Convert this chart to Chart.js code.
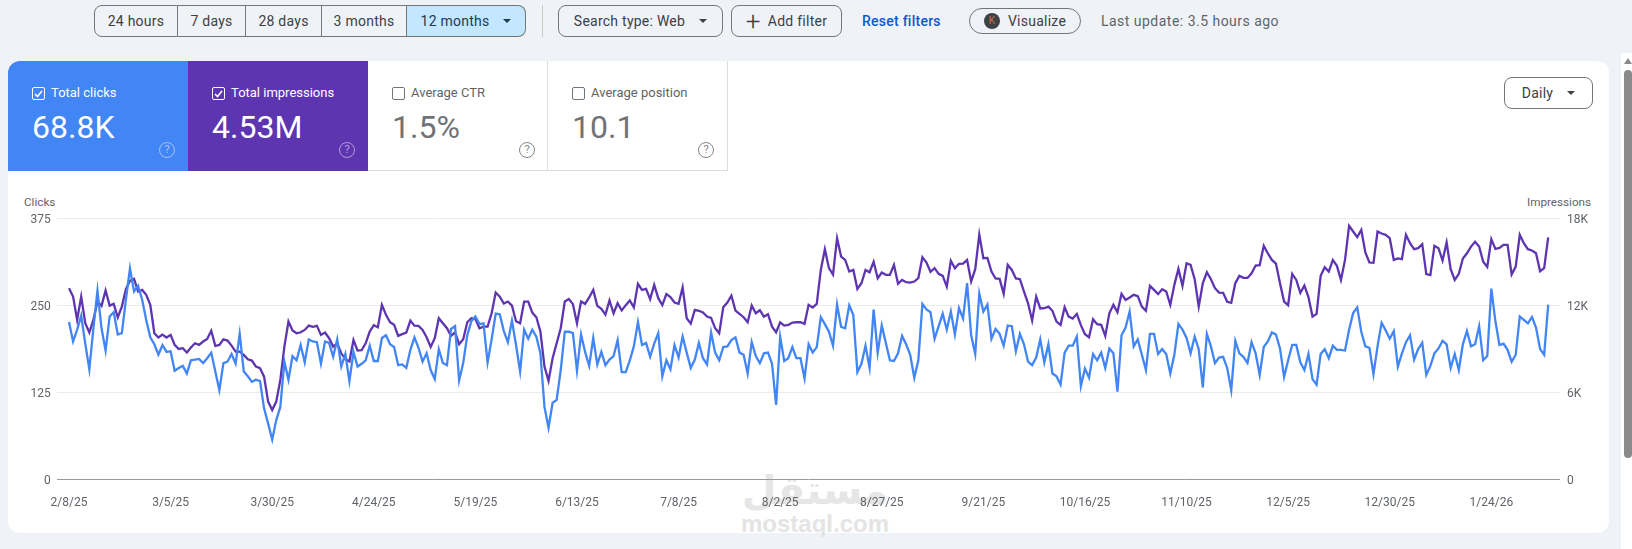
<!DOCTYPE html>
<html>
<head>
<meta charset="utf-8">
<title>Performance</title>
<script src="https://cdn.jsdelivr.net/npm/chart.js@4"></script>
<style>
  html, body { margin: 0; height: 100%; overflow: hidden; }
  body { width: 1632px; height: 549px; background: #eff3f8; font-family: Roboto, sans-serif; color: #3c4043; position: relative; }
  .abs { position: absolute; }
  .btn { position: absolute; box-sizing: border-box; border: 1px solid #747775; border-radius: 8px; display: flex; align-items: center; justify-content: center; font-size: 14px; letter-spacing: .25px; color: #3c4043; background: transparent; }
  .seg { position: absolute; top: 5px; height: 32px; box-sizing: border-box; display: flex; align-items: center; justify-content: center; font-size: 14px; letter-spacing: .25px; border: 1px solid #747775; border-left-width: 0; }
  .caret { display: inline-block; width: 0; height: 0; border-left: 4px solid transparent; border-right: 4px solid transparent; border-top: 4px solid #3c4043; margin-left: 14px; }
  .tile { position: absolute; top: 61px; height: 110px; box-sizing: border-box; }
  .tile .lbl { position: absolute; top: 24px; font-size: 13px; line-height: 15px; white-space: nowrap; }
  .tile .val { position: absolute; top: 46px; font-size: 32px; line-height: 40px; white-space: nowrap; }
  .tile .box { position: absolute; top: 26px; width: 13px; height: 13px; box-sizing: border-box; border: 1px solid #70757a; border-radius: 2px; }
  .tile .q { position: absolute; top: 81px; width: 16px; height: 16px; box-sizing: border-box; border: 1.5px solid #80868b; border-radius: 50%; font-size: 11px; line-height: 13px; text-align: center; color: #80868b; }
  .on { color: #fff; }
  .on .box { border-color: #fff; }
  .on .box svg { display: block; }
  .on .q { border-color: rgba(255,255,255,.5); color: rgba(255,255,255,.55); }
  .off .lbl { color: #5f6368; }
  .off .val { color: #6f7377; }
  .axis-title { position: absolute; top: 195px; font-size: 11.7px; line-height: 15px; color: #5f6368; }
  .mark { position: absolute; color: #e6e6e6; font-weight: 700; white-space: nowrap; text-align: center; }
</style>
</head>
<body>
<!-- toolbar -->
<div class="seg" style="left:94px;width:84px;border-left-width:1px;border-radius:8px 0 0 8px">24 hours</div>
<div class="seg" style="left:178px;width:68px">7 days</div>
<div class="seg" style="left:246px;width:76px">28 days</div>
<div class="seg" style="left:322px;width:85px">3 months</div>
<div class="seg" style="left:407px;width:119px;background:#c2e7ff;border-radius:0 8px 8px 0;color:#1f3a54">12 months<span class="caret" style="border-top-color:#1f3a54"></span></div>
<div class="abs" style="left:542px;top:5px;width:1px;height:32px;background:#cfc9c5"></div>
<div class="btn" style="left:558px;top:5px;width:165px;height:32px">Search type: Web<span class="caret"></span></div>
<div class="btn" style="left:731px;top:5px;width:111px;height:32px"><span style="font-size:26px;font-weight:300;line-height:20px;margin-right:7px">+</span>Add filter</div>
<div class="abs" style="left:862px;top:13px;font-size:14px;line-height:16px;letter-spacing:.25px;color:#0b57d0;font-weight:500">Reset filters</div>
<div class="btn" style="left:969px;top:8px;width:112px;height:26px;border-radius:13px"><span style="width:16px;height:16px;border-radius:50%;background:#3f4145;color:#b87a45;font-size:10px;line-height:16px;text-align:center;margin-right:8px">K</span>Visualize</div>
<div class="abs" style="left:1101px;top:13px;font-size:14px;line-height:16px;letter-spacing:.48px;color:#5f6368">Last update: 3.5 hours ago</div>

<!-- scrollbar -->
<div class="abs" style="left:1621px;top:53px;width:11px;height:496px;background:#fff"></div>
<div class="abs" style="left:1624px;top:70px;width:8px;height:388px;background:#8a8a8a;border-radius:4px"></div>
<div class="abs" style="left:1624px;top:58px;width:0;height:0;border-left:4px solid transparent;border-right:4px solid transparent;border-bottom:6px solid #8a8a8a"></div>

<!-- card -->
<div class="abs" style="left:8px;top:61px;width:1601px;height:472px;background:#fff;border-radius:12px"></div>

<!-- watermark -->
<div class="mark" style="left:725px;top:460px;width:180px;font-family:'DejaVu Sans';font-size:40px;line-height:60px">مستقل</div>
<div class="mark" style="left:725px;top:509px;width:180px;font-family:'Liberation Sans';font-size:24px;line-height:30px;color:#e4e4e4">mostaql.com</div>

<!-- metric tiles -->
<div class="tile on" style="left:8px;width:180px;background:#4285f4;border-top-left-radius:12px">
  <span class="box" style="left:24px"><svg width="11" height="11" viewBox="0 0 11 11"><path d="M2 6l2.5 2.5L9 3" fill="none" stroke="#fff" stroke-width="1.6"/></svg></span>
  <div class="lbl" style="left:43px">Total clicks</div>
  <div class="val" style="left:24px">68.8K</div>
  <div class="q" style="left:151px">?</div>
</div>
<div class="tile on" style="left:188px;width:180px;background:#5e35b1">
  <span class="box" style="left:24px"><svg width="11" height="11" viewBox="0 0 11 11"><path d="M2 6l2.5 2.5L9 3" fill="none" stroke="#fff" stroke-width="1.6"/></svg></span>
  <div class="lbl" style="left:43px">Total impressions</div>
  <div class="val" style="left:24px">4.53M</div>
  <div class="q" style="left:151px">?</div>
</div>
<div class="tile off" style="left:368px;width:180px;border-right:1px solid #dadce0;border-bottom:1px solid #dadce0">
  <span class="box" style="left:24px"></span>
  <div class="lbl" style="left:43px">Average CTR</div>
  <div class="val" style="left:24px">1.5%</div>
  <div class="q" style="left:151px">?</div>
</div>
<div class="tile off" style="left:548px;width:180px;border-right:1px solid #dadce0;border-bottom:1px solid #dadce0">
  <span class="box" style="left:24px"></span>
  <div class="lbl" style="left:43px">Average position</div>
  <div class="val" style="left:24px">10.1</div>
  <div class="q" style="left:150px">?</div>
</div>
<div class="btn" style="left:1504px;top:77px;width:89px;height:32px;color:#3c4043">Daily<span class="caret"></span></div>

<div class="axis-title" style="left:24px">Clicks</div>
<div class="axis-title" style="left:1527px">Impressions</div>

<canvas id="perf-chart" width="1609" height="343" style="position:absolute;left:0;top:190px;display:block"></canvas>

<script>
// Daily clicks (2/8/25 to 2/7/26)
const clicks = [
  226,198,215,235,195,158,217,271,217,185,
  234,240,208,210,258,303,270,278,258,229,
  204,194,179,193,183,184,156,160,163,152,
  171,172,173,167,174,182,155,128,167,169,
  180,166,209,155,148,140,143,141,102,80,
  57,85,104,169,143,177,171,193,168,201,
  198,197,166,198,196,176,201,162,180,141,
  183,162,166,171,192,170,170,203,207,194,
  190,164,165,160,186,204,189,169,181,157,
  144,187,167,164,216,220,142,167,207,227,
  234,223,224,168,201,238,237,213,197,228,
  193,155,
  215,202,215,205,181,104,74,110,114,157,
  212,212,210,156,208,183,163,203,165,183,
  164,172,177,200,154,154,171,191,226,193,
  196,176,195,210,148,171,158,193,175,205,
  182,160,172,196,174,165,211,182,171,190,
  191,200,204,182,179,152,197,177,167,181,
  182,166,107,205,170,174,190,174,174,145,
  194,182,190,233,223,212,192,251,219,217,
  250,236,154,166,192,160,244,182,221,196,
  171,170,181,206,194,179,146,171,252,244,
  240,202,220,238,215,241,208,246,231,282,
  207,180,267,241,251,202,216,209,192,221,
  220,184,209,
  194,169,164,175,201,168,194,152,148,136,
  182,192,192,205,134,159,146,180,171,182,
  160,188,181,126,207,218,241,191,201,179,
  157,209,209,180,187,180,152,179,223,215,
  203,181,205,187,132,209,191,167,175,176,
  160,128,199,181,176,167,197,181,150,190,
  198,211,208,188,147,171,193,193,168,157,
  180,144,136,180,187,174,192,186,186,185,
  215,239,247,212,191,189,151,191,225,214,
  202,213,162,181,197,207,172,187,196,150,
  163,181,188,199,194,160,180,157,194,213,
  191,194,220,171,177,274,227,193,195,186,
  169,179,234,229,224,233,218,187,179,251
];

// Daily impressions
const impressions = [
  13180,12600,10990,12600,10760,10120,10990,12260,11960,13020,
  11980,12100,11160,11910,13110,13690,13820,12950,13060,12720,
  12030,10070,9780,9980,9780,9960,9270,8990,9040,8740,
  9090,9380,9270,9500,9680,10240,9200,9270,9660,9570,
  9220,8810,8810,8580,8280,8190,7770,7660,7080,5360,
  4780,5360,6850,9150,10880,10260,10070,10140,10300,10600,
  10510,10580,9960,10120,9730,9150,9380,8690,8280,8120,
  9610,8880,8900,9380,10190,10630,10490,12030,11340,10830,
  10650,9890,10010,10120,10950,10600,10580,10300,9800,9130,
  9730,11110,10760,10420,9890,10140,9320,9660,10830,11110,
  11060,10420,10530,10530,11450,12880,12600,12120,12260,11980,
  10900,10760,
  12260,12260,11500,11180,10190,7770,6790,8350,9380,10420,
  12260,12440,12080,10760,12260,12100,12540,13060,11960,11750,
  11360,12330,11450,12140,11640,12010,12330,11850,13480,13060,
  13130,12420,13410,12490,12010,12770,12560,12190,12100,13230,
  11110,10740,11680,11620,11500,11220,11130,10420,10070,11870,
  12190,12670,11640,11410,11180,10830,11980,11450,11660,11220,
  11390,10530,10140,10830,10600,10650,10810,10830,10830,10720,
  12030,11850,12100,14440,15870,14560,14120,16630,15360,15130,
  14330,14440,13130,13520,14440,14280,15000,13870,14260,14100,
  14100,14790,13480,13750,13590,13570,13640,13870,15320,14950,
  14310,14560,14170,14030,13290,15070,14560,14860,14880,15130,
  13640,14490,16880,15250,15270,14330,13850,13820,12790,14790,
  14440,13850,13800,
  12950,12140,10950,12600,11780,11800,11910,11620,10880,10650,
  11870,11220,11090,11410,10630,10010,9800,11040,10700,10650,
  9890,11450,12030,11520,12790,12370,12540,12720,12630,11910,
  11620,13340,13060,12770,13110,12950,12030,13410,14510,13340,
  14900,14790,13800,11910,13520,14280,13800,13180,12880,12860,
  12240,12170,13520,14030,13890,13890,14210,14740,14770,16100,
  15590,15130,14880,13520,12260,12010,14170,13750,12860,13360,
  12560,11220,11410,14030,14630,14330,15130,14720,13750,15130,
  17480,17090,16700,17200,15640,14950,14930,17090,16950,16860,
  16630,15130,15230,15180,16860,16280,15870,15940,16220,14150,
  14080,16100,15940,15090,16330,14490,13750,14170,15230,15590,
  16050,16380,16050,15000,14650,16560,15890,15960,16170,16170,
  14120,14670,16860,16280,15870,15780,15590,14350,14560,16680
];

// One x tick every 25 days
const tickDates = ['2/8/25','3/5/25','3/30/25','4/24/25','5/19/25','6/13/25','7/8/25','8/2/25','8/27/25','9/21/25','10/16/25','11/10/25','12/5/25','12/30/25','1/24/26'];
const tickEvery = 25;

const labelColor = '#5f6368';
const gridColor = '#ebebeb';
const axisFont = { family: 'Roboto', size: 12 };

new Chart(document.getElementById('perf-chart').getContext('2d'), {
  type: 'line',
  data: {
    datasets: [
      { label: 'Clicks', data: clicks.map((v, i) => ({ x: i, y: v })), yAxisID: 'yClicks', borderColor: '#4285f4', borderWidth: 2.3, pointRadius: 0, tension: 0 },
      { label: 'Impressions', data: impressions.map((v, i) => ({ x: i, y: v })), yAxisID: 'yImpressions', borderColor: '#5e35b1', borderWidth: 2.3, pointRadius: 0, tension: 0 }
    ]
  },
  options: {
    responsive: false,
    animation: false,
    layout: { padding: { top: 28.3, left: 0, right: 0, bottom: 0 } },
    plugins: { legend: { display: false }, tooltip: { enabled: false } },
    scales: {
      x: {
        type: 'linear',
        min: -3.03,
        max: 366.9,
        grid: { display: false },
        border: { display: false },
        afterBuildTicks: axis => { axis.ticks = tickDates.map((d, i) => ({ value: i * tickEvery })); },
        afterFit: axis => { axis.height = 53.7; },
        ticks: { autoSkip: false, maxRotation: 0, padding: 8, color: labelColor, font: axisFont, callback: v => tickDates[v / tickEvery] }
      },
      yClicks: {
        position: 'left',
        min: 0,
        max: 375,
        afterFit: axis => { axis.width = 56.7; },
        border: { display: false },
        grid: { drawTicks: false, color: c => (c.tick.value === 0 ? '#9a9a9a' : gridColor) },
        ticks: { stepSize: 125, padding: 6, labelOffset: 1.5, color: labelColor, font: axisFont }
      },
      yImpressions: {
        position: 'right',
        min: 0,
        max: 18000,
        afterFit: axis => { axis.width = 49; },
        border: { display: false },
        grid: { display: false, drawTicks: false },
        ticks: { stepSize: 6000, padding: 7, labelOffset: 1.5, color: labelColor, font: axisFont, callback: v => (v ? v / 1000 + 'K' : '0') }
      }
    }
  }
});
</script>
</body>
</html>
